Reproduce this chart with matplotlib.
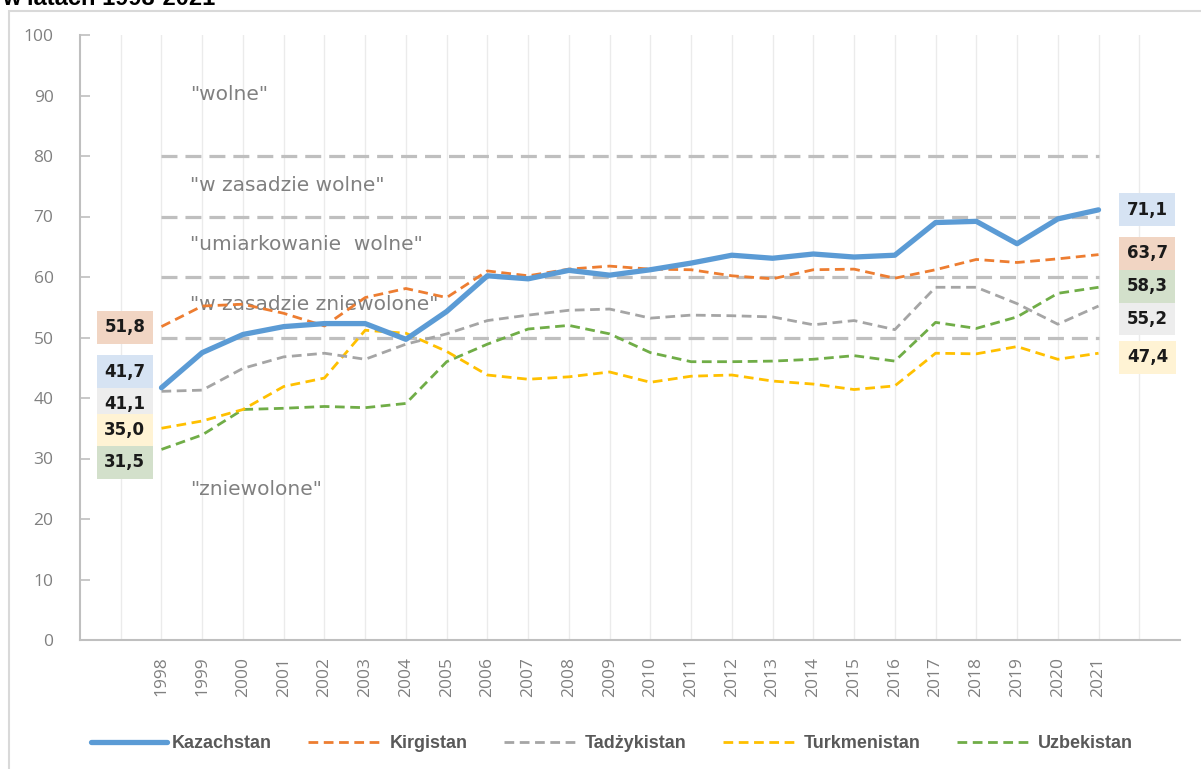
import numpy as np
import matplotlib
matplotlib.use("Agg")
import matplotlib.pyplot as plt
from matplotlib.patches import Rectangle

# data
years = list(range(1998, 2022))
kazachstan = [41.7, 47.5, 50.5, 51.8, 52.3, 52.3, 49.7, 54.3, 60.2, 59.7, 61.1, 60.3,
              61.2, 62.3, 63.6, 63.1, 63.8, 63.3, 63.6, 69.0, 69.2, 65.5, 69.6, 71.1]
kirgistan = [51.8, 55.2, 55.5, 54.0, 51.9, 56.6, 58.1, 56.6, 61.0, 60.2, 61.3, 61.8,
             61.3, 61.2, 60.2, 59.7, 61.2, 61.3, 59.8, 61.2, 62.9, 62.4, 63.0, 63.7]
tadzykistan = [41.1, 41.3, 44.9, 46.8, 47.4, 46.4, 48.9, 50.6, 52.8, 53.7, 54.5, 54.7,
               53.2, 53.7, 53.6, 53.4, 52.1, 52.8, 51.3, 58.3, 58.3, 55.6, 52.2, 55.2]
turkmenistan = [35.0, 36.2, 38.1, 41.9, 43.3, 51.2, 50.7, 47.7, 43.8, 43.1, 43.5, 44.3,
                42.6, 43.6, 43.8, 42.8, 42.3, 41.4, 42.0, 47.4, 47.3, 48.5, 46.4, 47.4]
uzbekistan = [31.5, 33.9, 38.1, 38.3, 38.6, 38.4, 39.1, 46.0, 48.9, 51.4, 52.0, 50.6,
              47.5, 46.0, 46.0, 46.1, 46.4, 47.0, 46.1, 52.5, 51.5, 53.4, 57.3, 58.3]
series_names = ["Kazachstan", "Kirgistan", "Tadżykistan", "Turkmenistan", "Uzbekistan"]
thresholds = [50, 60, 70, 80]
zones = ['"wolne"', '"w zasadzie wolne"', '"umiarkowanie  wolne"',
         '"w zasadzie zniewolone"', '"zniewolone"']

# layout / style
colors = ["#5B9BD5", "#ED7D31", "#A5A5A5", "#FFC000", "#70AD47"]
box_colors = ["#D6E3F3", "#F1D5C3", "#EDEDED", "#FFF3D4", "#D3E0CB"]
zone_y = [90.1, 75.2, 65.3, 55.4, 24.8]
left_label_y = [44.3, 51.7, 39.0, 34.7, 29.4]
right_label_y = [71.1, 63.9, 53.1, 46.7, 58.5]

fig = plt.figure(figsize=(12.01, 7.69), dpi=100)
W, H = 1201, 769
ax = fig.add_axes([80 / W, (H - 640) / H, 1100 / W, 605 / H])

# chart area frame and cut-off title
fig.patches.append(Rectangle((9 / W, -0.1), 1.2, 1.1 - 11 / H, transform=fig.transFigure,
                             fill=False, edgecolor="#D9D9D9", linewidth=1.5))
fig.text(2 / W, 1 - 5 / H, "w latach 1998-2021", fontsize=17, fontweight="bold",
         family="Liberation Sans", va="baseline", ha="left")

ax.set_xlim(1996, 2023)
ax.set_ylim(0, 100)

# vertical category gridlines
for x in range(1997, 2023):
    ax.axvline(x, color="#EBEBEB", linewidth=1, zorder=0)

# threshold lines
for t in thresholds:
    ax.plot([years[0], years[-1]], [t, t], color="#BFBFBF", linewidth=2.3,
            dashes=(5, 2.5), zorder=1)

all_series = [kazachstan, kirgistan, tadzykistan, turkmenistan, uzbekistan]
lines = []
for i, (name, vals) in enumerate(zip(series_names, all_series)):
    if i == 0:
        ln, = ax.plot(years, vals, color=colors[i], linewidth=3.8, label=name,
                      zorder=5, solid_capstyle="round")
    else:
        ln, = ax.plot(years, vals, color=colors[i], linewidth=2.0, dashes=(3.5, 2),
                      label=name, zorder=4 - i * 0.1)
    lines.append(ln)

# value labels at both ends
for i, vals in enumerate(all_series):
    for xpos, ypos, v in [(1997.1, left_label_y[i], vals[0]),
                          (2022.2, right_label_y[i], vals[-1])]:
        ax.text(xpos, ypos, f"{v:.1f}".replace(".", ","), ha="center", va="center",
                fontsize=12, fontweight="bold", family="DejaVu Sans", color="#1a1a1a",
                bbox=dict(boxstyle="square,pad=0.45", facecolor=box_colors[i],
                          edgecolor="none"), zorder=6)

# zone names
for txt, zy in zip(zones, zone_y):
    ax.text(1998.7, zy, txt, fontsize=14.5, color="#808080", family="DejaVu Sans",
            ha="left", va="center", zorder=3)

for side in ["top", "right"]:
    ax.spines[side].set_visible(False)
for side in ["left", "bottom"]:
    ax.spines[side].set_color("#BFBFBF")
    ax.spines[side].set_linewidth(1.5)

ax.set_yticks(np.arange(0, 101, 10))
ax.tick_params(axis="y", direction="in", length=7, color="#BFBFBF", width=1.2,
               labelsize=12.5, labelcolor="#808080", pad=19)
ax.set_xticks(years)
ax.set_xticklabels([str(y) for y in years], rotation=90)
ax.tick_params(axis="x", length=0, labelsize=12.5, labelcolor="#808080", pad=12)
for lbl in ax.get_xticklabels() + ax.get_yticklabels():
    lbl.set_family("Open Sans")

leg = fig.legend(handles=lines, loc="center", bbox_to_anchor=(612 / W, (H - 744) / H),
                 ncol=5, frameon=False, handlelength=4.2, handletextpad=0.3,
                 columnspacing=2.0, prop={"family": "Liberation Sans", "weight": "bold",
                                          "size": 13})
for t in leg.get_texts():
    t.set_color("#595959")

fig.savefig("out.png", dpi=100)
